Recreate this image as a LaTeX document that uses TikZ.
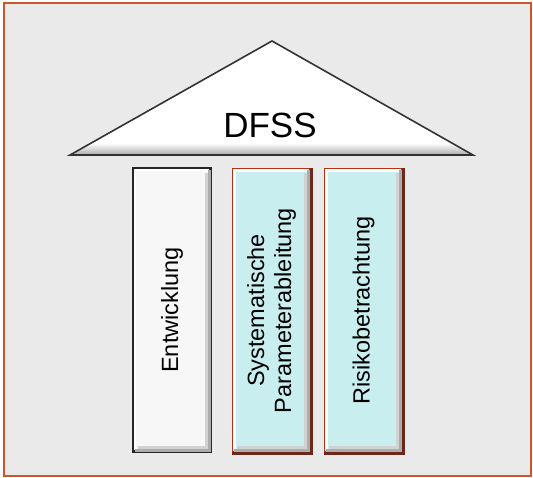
\documentclass[tikz,border=0pt]{standalone}
\usepackage{fontspec}
\setmainfont{Liberation Sans}
\definecolor{frameorange}{RGB}{205,85,45}
\definecolor{bggray}{RGB}{234,234,234}
\definecolor{pillarcyan}{RGB}{200,238,240}
\definecolor{pillarred}{RGB}{180,50,20}
\definecolor{pillardark}{RGB}{110,40,25}
\definecolor{pillarwhite}{RGB}{247,247,247}
\tikzset{
  pillar/.style={rectangle,draw,line width=2.5pt,minimum width=77.5pt,minimum height=283.5pt,inner sep=0pt},
  pillartext/.style={rotate=90,align=center,font=\fontsize{23.5}{27}\selectfont},
  shadowline/.style={line width=3pt,gray!65},
  softline/.style={line width=3pt,gray!35},
  lightline/.style={line width=2.5pt,white}
}
\begin{document}
\begin{tikzpicture}[x=1pt,y=-1pt]
\useasboundingbox (0,0) rectangle (533,477);
% background with the orange frame
\draw[fill=bggray,draw=frameorange,line width=2pt] (4,3) rectangle (531,476);
% the roof
\coordinate (apex) at (272,41);
\coordinate (eaveL) at (70,155);
\coordinate (eaveR) at (473,155);
\fill[white] (apex) -- (eaveL) -- (eaveR) -- cycle;
\shade[top color=white,bottom color=gray!65] (91,143) -- (452,143) -- (eaveR) -- (eaveL) -- cycle;
\draw[line width=1.6pt,black!80] (apex) -- (eaveL) -- (eaveR) -- cycle;
\node[font=\fontsize{35}{40}\selectfont] (dfss) at (270,125.5) {DFSS};
% the three pillars
\node[pillar,fill=pillarwhite,draw=black!85,label={[pillartext]center:Entwicklung}] (entw) at (172,310) {};
\node[pillar,fill=pillarcyan,draw=pillarred,label={[pillartext]center:{Systematische\\Parameterableitung}}] (param) at (271.5,310.5) {};
\node[pillar,fill=pillarcyan,draw=pillarred,label={[pillartext]center:Risikobetrachtung}] (risk) at (363.5,310.5) {};
% darker lower and right edge of the cyan pillars
\foreach \p in {param,risk}
  \draw[line width=2.5pt,pillardark] (\p.north east) -- (\p.south east) -- (\p.south west);
% bevel edges
\foreach \p in {entw,param,risk}{
  \draw[lightline] ([shift={(2.8,-2.8)}]\p.south west) -- ([shift={(2.8,2.8)}]\p.north west) -- ([shift={(-2.8,2.8)}]\p.north east);
  \draw[shadowline] ([shift={(-2.8,2.8)}]\p.north east) -- ([shift={(-2.8,-2.8)}]\p.south east) -- ([shift={(2.8,-2.8)}]\p.south west);
  \draw[softline] ([shift={(-5.8,5.8)}]\p.north east) -- ([shift={(-5.8,-5.8)}]\p.south east) -- ([shift={(5.8,-5.8)}]\p.south west);
}
\end{tikzpicture}
\end{document}
